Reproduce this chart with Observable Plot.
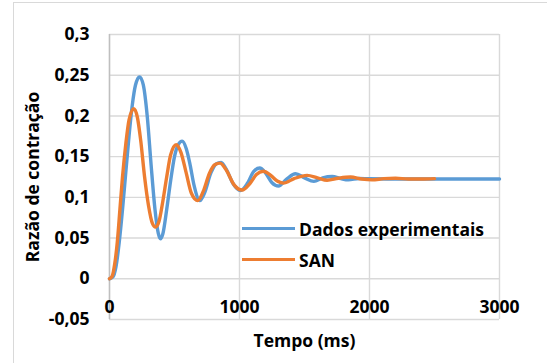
<!DOCTYPE html>
<html>
<head>
<meta charset="utf-8">
<script src="https://cdn.jsdelivr.net/npm/d3@7"></script>
<script src="https://cdn.jsdelivr.net/npm/@observablehq/plot@0.6"></script>
<style>
  html, body { margin: 0; padding: 0; background: #fff; overflow: hidden; }
  #wrap { position: relative; width: 547px; height: 363px; overflow: hidden; }
  #border { position: absolute; left: 13px; top: 2px; width: 600px; height: 420px; border: 1px solid #d9d9d9; box-sizing: border-box; }
  #chart { position: absolute; left: 0; top: 0; }
  #legend { position: absolute; left: 242px; top: 213px; font-family: "Open Sans", sans-serif; font-weight: bold; font-size: 17.5px; color: #000; }
  .item { display: flex; align-items: center; height: 31px; }
  .sw { width: 53px; height: 3.4px; margin-right: 4px; }
</style>
</head>
<body>
<div id="wrap">
  <div id="border"></div>
  <div id="chart"></div>
  <div id="legend"></div>
</div>
<script>
const seriesNames = ["Dados experimentais", "SAN"];
const seriesColors = ["#5B9BD5", "#ED7D31"];

const expTime = [0,25,50,75,100,125,150,175,200,231,260,290,320,350,375,392,410,440,470,500,530,559,590,620,650,695,730,780,820,859,900,950,1008,1060,1110,1156,1200,1250,1300,1360,1431,1500,1572,1640,1713,1780,1838,1920,2000,2200,2500,3000];
const expValue = [0,0.002,0.015,0.045,0.085,0.13,0.175,0.213,0.238,0.248,0.238,0.2,0.14,0.085,0.056,0.049,0.055,0.085,0.12,0.15,0.165,0.169,0.16,0.14,0.115,0.096,0.105,0.13,0.141,0.143,0.134,0.117,0.1085,0.117,0.132,0.136,0.13,0.118,0.114,0.122,0.129,0.124,0.1196,0.124,0.1257,0.123,0.1215,0.1232,0.1228,0.1225,0.1225,0.1225];

const sanTime = [0,20,40,60,80,100,125,150,187,215,240,270,300,330,354,380,410,440,470,513,550,590,630,679,720,770,810,850,900,960,1020,1080,1130,1182,1240,1290,1338,1420,1520,1600,1674,1760,1854,1940,2020,2110,2200,2300,2400,2500];
const sanValue = [0,0.003,0.018,0.045,0.085,0.125,0.165,0.195,0.209,0.198,0.17,0.125,0.09,0.068,0.0635,0.07,0.095,0.125,0.152,0.1646,0.155,0.13,0.105,0.096,0.107,0.13,0.14,0.142,0.133,0.115,0.109,0.117,0.128,0.132,0.127,0.12,0.1175,0.123,0.127,0.124,0.121,0.1235,0.125,0.1225,0.1215,0.123,0.1235,0.1225,0.1225,0.123];

const xTicks = [0, 1000, 2000, 3000];
const yTicks = [-0.05, 0, 0.05, 0.1, 0.15, 0.2, 0.25, 0.3];
const xTitle = "Tempo (ms)";
const yTitle = "Razão de contração";

const expData = expTime.map((t, i) => ({t, v: expValue[i]}));
const sanData = sanTime.map((t, i) => ({t, v: sanValue[i]}));
const fmtY = d => d === 0 ? "0" : String(d).replace(".", ",");

const chart = Plot.plot({
  width: 547,
  height: 363,
  marginLeft: 109,
  marginRight: 48,
  marginTop: 34,
  marginBottom: 44,
  style: { fontFamily: "'Open Sans', sans-serif", fontWeight: "bold", fontSize: "17.5px", color: "#000", background: "transparent", overflow: "visible" },
  x: { domain: [0, 3000], axis: null },
  y: { domain: [-0.05, 0.3], axis: null },
  marks: [
    Plot.gridY(yTicks, { stroke: "#d9d9d9", strokeOpacity: 1, strokeWidth: 1.4 }),
    Plot.gridX(xTicks, { stroke: "#d9d9d9", strokeOpacity: 1, strokeWidth: 1.4 }),
    Plot.ruleX([0], { stroke: "#bfbfbf", strokeWidth: 1.4 }),
    Plot.line(expData, { x: "t", y: "v", stroke: seriesColors[0], strokeWidth: 3.4, curve: "monotone-x" }),
    Plot.line(sanData, { x: "t", y: "v", stroke: seriesColors[1], strokeWidth: 3.4, curve: "monotone-x" }),
    Plot.text(yTicks, { x: () => 0, y: d => d, text: fmtY, textAnchor: "end", dx: -20, fill: "#000" }),
    Plot.text(xTicks, { x: d => d, y: () => 0, text: d => String(d), dy: 29, fill: "#000" }),
    Plot.text([xTitle], { frameAnchor: "bottom", lineAnchor: "middle", textAnchor: "middle", dy: 22, fill: "#000" }),
    Plot.text([yTitle], { frameAnchor: "left", rotate: -90, textAnchor: "middle", lineAnchor: "middle", dx: -76, fill: "#000" })
  ]
});
document.getElementById("chart").appendChild(chart);

const legend = document.getElementById("legend");
seriesNames.forEach((name, i) => {
  const item = document.createElement("div");
  item.className = "item";
  const sw = document.createElement("div");
  sw.className = "sw";
  sw.style.background = seriesColors[i];
  const label = document.createElement("span");
  label.textContent = name;
  item.appendChild(sw);
  item.appendChild(label);
  legend.appendChild(item);
});
</script>
</body>
</html>
